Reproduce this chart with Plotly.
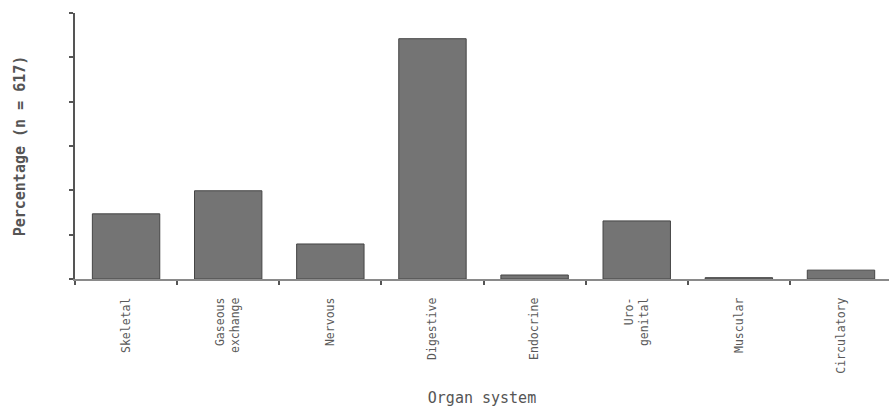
import plotly.graph_objects as go

# Share of cases by organ system (n = 617)
categories = ["Skeletal", "Gaseous<br>exchange", "Nervous", "Digestive",
              "Endocrine", "Uro-<br>genital", "Muscular", "Circulatory"]
percentages = [14.7, 19.9, 7.9, 54.2, 0.9, 13.1, 0.3, 2.0]
y_ticks = [0, 10, 20, 30, 40, 50, 60]

mono = "DejaVu Sans Mono"

fig = go.Figure(
    go.Bar(
        x=categories,
        y=percentages,
        width=0.66,
        marker=dict(color="#747474", line=dict(color="#454545", width=1)),
    )
)

fig.update_layout(
    width=889,
    height=410,
    margin=dict(l=75, r=0, t=13, b=131),
    paper_bgcolor="white",
    plot_bgcolor="white",
    showlegend=False,
    font=dict(family=mono, size=12, color="#555555"),
)

fig.update_xaxes(
    range=[-0.5, 7.47],
    showline=True,
    linecolor="#8a8a8a",
    linewidth=2,
    ticks="outside",
    tickson="boundaries",
    ticklen=4,
    tickcolor="#555555",
    tickwidth=2,
    tickangle=-90,
    ticklabelstandoff=12,
    tickfont=dict(family=mono, size=11.5, color="#5a5a5a"),
    showgrid=False,
    zeroline=False,
    title=dict(text="Organ system", font=dict(family=mono, size=15, color="#555555"),
               standoff=20),
    automargin=False,
)

fig.update_yaxes(
    range=[0, 60],
    tickvals=y_ticks,
    showticklabels=False,
    showline=True,
    linecolor="#555555",
    linewidth=1.5,
    ticks="outside",
    ticklen=4,
    tickcolor="#555555",
    tickwidth=1.5,
    showgrid=False,
    zeroline=False,
    title=dict(text="<b>Percentage (n = 617)</b>",
               font=dict(family=mono, size=15, color="#555555"), standoff=40),
    automargin=False,
)

fig.write_html("out.html")
